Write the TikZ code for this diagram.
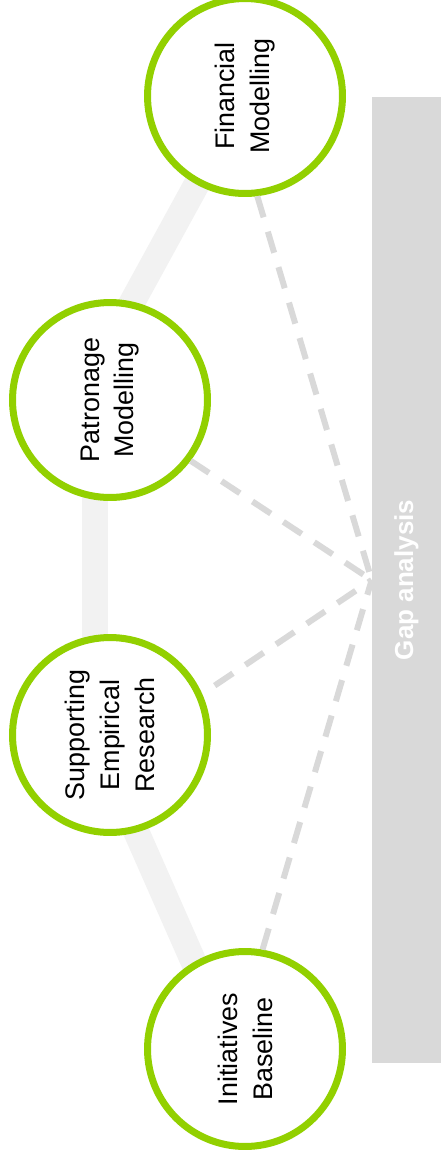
\documentclass[tikz,border=0pt]{standalone}
\usepackage{fontspec}
\setmainfont{Liberation Sans}
\definecolor{stepgreen}{RGB}{146,208,0}
\definecolor{bandgrey}{RGB}{242,242,242}
\definecolor{gapgrey}{RGB}{217,217,217}
\tikzset{
  stage/.style={circle, draw=stepgreen, line width=0.14cm, fill=white, inner sep=0pt,
    minimum size=3.9cm, align=center, rotate=90, font=\fontsize{15.3}{19.8}\selectfont},
  band/.style={bandgrey, line width=0.52cm},
  gapline/.style={gapgrey, line width=0.12cm, dash pattern=on 0.44cm off 0.3cm},
}
\begin{document}
\begin{tikzpicture}[x=0.02cm, y=-0.02cm]
\useasboundingbox (0,0) rectangle (441,1164);
\coordinate (b0) at (245,96);
\coordinate (b1) at (95,370);
\coordinate (b2) at (95,738);
\coordinate (b3) at (232,1049);
\draw[band] (b0) -- (b1) -- (b2) -- (b3);
% stage nodes are turned by 90, so their anchor angles are too
\node[stage] (fin) at (245,96){Financial\\Modelling};
\node[stage] (pat) at (110,400){Patronage\\Modelling};
\node[stage] (sup) at (110,735){Supporting\\Empirical\\Research};
\node[stage] (ini) at (245,1049){Initiatives\\Baseline};
\node[fill=gapgrey, rotate=90, minimum width=19.32cm, minimum height=1.38cm, inner sep=0pt,
  text=white, font=\fontsize{14.8}{18}\selectfont\bfseries] (gap) at (406.5,580){Gap analysis};
\draw[gapline](fin.187) -- (gap.north);
\draw[gapline](pat.-127) -- (gap.north);
\draw[gapline, shorten <=0.3cm](sup.-66) -- (gap.north);
\draw[gapline](ini.-10) -- (gap.north);
\end{tikzpicture}
\end{document}
